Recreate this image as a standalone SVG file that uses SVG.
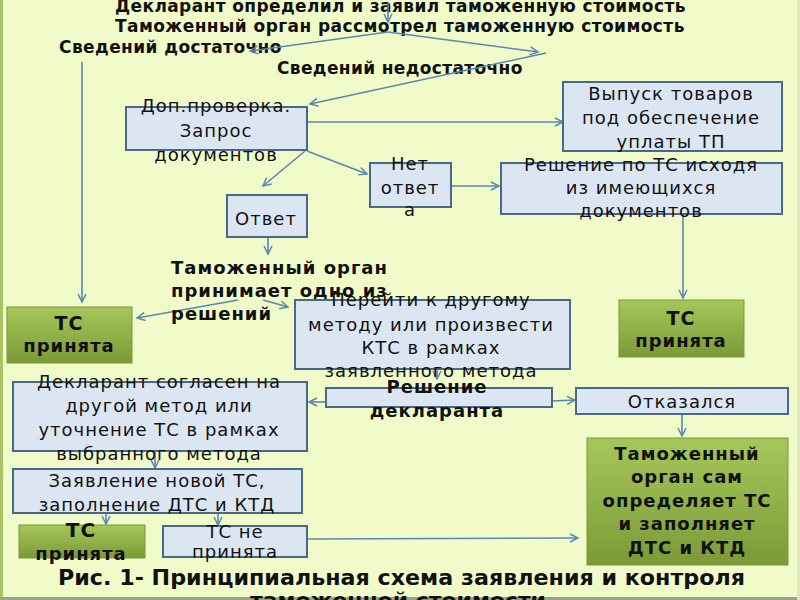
<svg xmlns="http://www.w3.org/2000/svg" width="800" height="600" viewBox="0 0 800 600">
<defs>
<linearGradient id="grn" x1="0" y1="0" x2="0" y2="1">
<stop offset="0" stop-color="#a6c75a"/>
<stop offset="1" stop-color="#7b9a38"/>
</linearGradient>
<marker id="ah" markerUnits="userSpaceOnUse" markerWidth="12" markerHeight="12" refX="9" refY="5" orient="auto">
<path d="M1,1 L9,5 L1,9" fill="none" stroke="#5b87ae" stroke-width="1.5"/>
</marker>
<style>
.bx{fill:#dce6f2;stroke:#4a6887;stroke-width:2}
.gb{fill:url(#grn);stroke:#7a9838;stroke-width:1}
.t{font-family:"DejaVu Sans","Noto Sans",sans-serif;font-size:18px;fill:#111;text-anchor:middle;letter-spacing:1px}
.b{font-family:"DejaVu Sans","Noto Sans",sans-serif;font-size:17px;font-weight:bold;fill:#111;letter-spacing:0.6px}
.bc{font-family:"DejaVu Sans","Noto Sans",sans-serif;font-size:18px;font-weight:bold;fill:#111;text-anchor:middle;letter-spacing:1px}
.cap{font-family:"DejaVu Sans","Noto Sans",sans-serif;font-size:21px;font-weight:bold;fill:#111}
.c line{stroke:#5b87ae;stroke-width:1.6;marker-end:url(#ah)}
</style>
</defs>
<rect x="0" y="0" width="800" height="600" fill="#f0fbc9"/>
<rect x="0" y="0" width="3" height="600" fill="#a9c265"/>
<rect x="0" y="597" width="800" height="3" fill="#9aa38a"/>
<rect x="797" y="0" width="3" height="600" fill="#dfe8c0"/>

<g id="header">
<text class="b" x="115" y="12" textLength="571">Декларант определил и заявил таможенную стоимость</text>
<text class="b" x="115" y="32" textLength="570">Таможенный орган рассмотрел таможенную стоимость</text>
<text class="b" x="59" y="53" textLength="223">Сведений достаточно</text>
<text class="b" x="277" y="74" textLength="246">Сведений недостаточно</text>
</g>

<g class="c" id="connectors">
<line x1="388" y1="3" x2="388" y2="22"/>
<line x1="388" y1="32" x2="250" y2="51"/>
<line x1="388" y1="32" x2="538" y2="52"/>
<line x1="546" y1="53" x2="310" y2="104"/>
<line x1="307" y1="122" x2="563" y2="122"/>
<line x1="305" y1="151" x2="263" y2="186"/>
<line x1="307" y1="151" x2="367" y2="174"/>
<line x1="451" y1="186" x2="499" y2="186"/>
<line x1="683" y1="214" x2="683" y2="298"/>
<line x1="268" y1="237" x2="268" y2="254"/>
<line x1="82" y1="62" x2="82" y2="302"/>
<line x1="238" y1="300" x2="137" y2="318"/>
<line x1="263" y1="300" x2="288" y2="307"/>
<line x1="437" y1="369" x2="437" y2="379"/>
<line x1="326" y1="402" x2="309" y2="402"/>
<line x1="552" y1="401" x2="575" y2="400"/>
<line x1="682" y1="414" x2="682" y2="436"/>
<line x1="155" y1="451" x2="155" y2="468"/>
<line x1="106" y1="513" x2="106" y2="524"/>
<line x1="218" y1="513" x2="218" y2="525"/>
<line x1="307" y1="539" x2="578" y2="538"/>
</g>

<g id="dop">
<rect class="bx" x="126" y="107" width="181" height="43"/>
<text class="t" x="216" y="112">Доп.проверка.</text>
<text class="t" x="216" y="137">Запрос</text>
<text class="t" x="216" y="161">документов</text>
</g>

<g id="vypusk">
<rect class="bx" x="563" y="82" width="219" height="69"/>
<text class="t" x="671" y="100">Выпуск товаров</text>
<text class="t" x="671" y="124">под обеспечение</text>
<text class="t" x="671" y="148">уплаты ТП</text>
</g>

<g id="net">
<rect class="bx" x="370" y="163" width="81" height="44"/>
<text class="t" x="410" y="170">Нет</text>
<text class="t" x="410" y="194">ответ</text>
<text class="t" x="410" y="216">а</text>
</g>

<g id="reshenie-ts">
<rect class="bx" x="501" y="163" width="281" height="51"/>
<text class="t" x="641" y="171">Решение по ТС исходя</text>
<text class="t" x="641" y="194">из имеющихся</text>
<text class="t" x="641" y="217">документов</text>
</g>

<g id="otvet">
<rect class="bx" x="227" y="195" width="80" height="42"/>
<text class="t" x="266" y="225">Ответ</text>
</g>

<g id="to-reshaet">
<text class="b" x="171" y="274" style="font-size:18px;letter-spacing:1px">Таможенный орган</text>
<text class="b" x="171" y="297" style="font-size:18px;letter-spacing:1px">принимает одно из</text>
<text class="b" x="171" y="320" style="font-size:18px;letter-spacing:1px">решений</text>
</g>

<g id="ts-prinyata-1">
<rect class="gb" x="7" y="307" width="125" height="56"/>
<text class="bc" x="69" y="330" style="font-size:19px">ТС</text>
<text class="bc" x="69" y="352">принята</text>
</g>

<g id="ts-prinyata-2">
<rect class="gb" x="619" y="300" width="125" height="57"/>
<text class="bc" x="681" y="325" style="font-size:19px">ТС</text>
<text class="bc" x="681" y="347">принята</text>
</g>

<g id="pereyti">
<rect class="bx" x="295" y="300" width="275" height="69"/>
<text class="t" x="431" y="306">Перейти к другому</text>
<text class="t" x="431" y="331">методу или произвести</text>
<text class="t" x="431" y="354">КТС в рамках</text>
<text class="t" x="431" y="377">заявленного метода</text>
</g>

<g id="reshenie-decl">
<rect class="bx" x="326" y="388" width="226" height="19"/>
<text class="bc" x="437" y="393">Решение</text>
<text class="bc" x="437" y="417">декларанта</text>
</g>

<g id="otkazalsya">
<rect class="bx" x="576" y="388" width="212" height="26"/>
<text class="t" x="682" y="408">Отказался</text>
</g>

<g id="soglasen">
<rect class="bx" x="13" y="382" width="294" height="69"/>
<text class="t" x="159" y="388">Декларант согласен на</text>
<text class="t" x="159" y="412">другой метод или</text>
<text class="t" x="159" y="436">уточнение ТС в рамках</text>
<text class="t" x="159" y="460">выбранного метода</text>
</g>

<g id="zayavlenie">
<rect class="bx" x="13" y="469" width="289" height="44"/>
<text class="t" x="157" y="487">Заявление новой ТС,</text>
<text class="t" x="157" y="511">заполнение ДТС и КТД</text>
</g>

<g id="ts-prinyata-3">
<rect class="gb" x="19" y="525" width="126" height="33"/>
<text class="bc" x="81" y="537" style="font-size:20px">ТС</text>
<text class="bc" x="81" y="560">принята</text>
</g>

<g id="ts-ne-prinyata">
<rect class="bx" x="163" y="526" width="144" height="31"/>
<text class="t" x="235" y="538">ТС не</text>
<text class="t" x="235" y="558">принята</text>
</g>

<g id="to-sam">
<rect class="gb" x="587" y="438" width="201" height="127"/>
<text class="bc" x="687" y="460">Таможенный</text>
<text class="bc" x="687" y="483">орган сам</text>
<text class="bc" x="687" y="507">определяет ТС</text>
<text class="bc" x="687" y="530">и заполняет</text>
<text class="bc" x="687" y="554">ДТС и КТД</text>
</g>

<g id="caption">
<text class="cap" x="58" y="585" textLength="687" lengthAdjust="spacingAndGlyphs">Рис. 1- Принципиальная схема заявления и контроля</text>
<text class="cap" x="250" y="608" textLength="296" lengthAdjust="spacingAndGlyphs">таможенной стоимости</text>
</g>
</svg>
